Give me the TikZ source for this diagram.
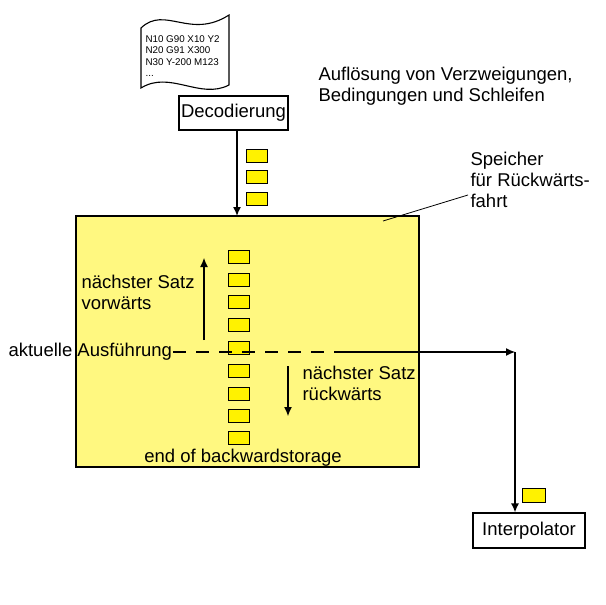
\documentclass[tikz,border=0pt]{standalone}
\usepackage{fontspec}
\setmainfont{Liberation Sans}
\usetikzlibrary{arrows.meta}
\begin{document}
\begin{tikzpicture}[x=1pt,y=-1pt,line width=1.1pt,
  lbl/.style={font=\fontsize{18.5}{21}\selectfont,align=left,inner sep=0,anchor=west},
  cell/.style={draw,fill=yellow,minimum width=21pt,minimum height=13pt,inner sep=0,line width=1pt},
  box/.style={draw,fill=white,inner sep=0},
  arr/.style={-{Latex[length=9pt,width=8pt]},line width=1.5pt}]
\useasboundingbox (0,0) rectangle (605,605);
% document
\draw[fill=white] (141,28) .. controls (165,5) and (190,40) .. (229,15) -- (229,85)
  .. controls (200,100) and (170,70) .. (141,88) -- cycle;
\node[font=\fontsize{9.8}{11.5}\selectfont,align=left,anchor=north west,inner sep=0] (code) at (145,35)
 {N10 G90 X10 Y2\\N20 G91 X300\\N30 Y-200 M123\\...};
\node[box,minimum width=109pt,minimum height=34pt,font=\fontsize{18.5}{21}\selectfont] (dec) at (233.5,113) {Decodierung};
\node[lbl] (aufl) at (318,86) {Auflösung von Verzweigungen,\\Bedingungen und Schleifen};
% big box
\node[draw,fill=yellow!50,minimum width=343pt,minimum height=251pt,inner sep=0] (spe) at (247.5,341.5) {};
\draw[arr] (dec.south -| 237,0) -- (237,216) coordinate (inp);
\foreach \y/\n in {156/a,177/b,199/c} \node[cell] (t\n) at (257,\y) {};
\foreach \y [count=\i] in {257,280,302,325,348,371,394,416,438} \node[cell] (s\i) at (238.5,\y) {};
\coordinate (u1) at (204,340); \coordinate (u2) at (204,258);
\draw[arr,line width=1.1pt] (u1) -- (u2);
\node[lbl] (vor) at (81,292) {nächster Satz\\vorwärts};
\coordinate (d1) at (288,366); \coordinate (d2) at (288,416);
\draw[arr,line width=1.1pt] (d1) -- (d2);
\node[lbl] (rue) at (302,383) {nächster Satz\\rückwärts};
\node[lbl] (akt) at (8,352) {aktuelle Ausführung};
\node[font=\fontsize{18.5}{21}\selectfont,inner sep=0] (end) at (243,458) {end of backwardstorage};
\node[lbl] (sp) at (470,180) {Speicher\\für Rückwärts-\\fahrt};
\draw[line width=0.8pt] (383,221) -- (468,195);
% current line
\coordinate (c0) at (173,352); \coordinate (c1) at (340,352); \coordinate (c2) at (515,352);
\draw[dash pattern=on 13pt off 10pt] (c0) -- (c1);
\draw[arr,line width=1.1pt] (c1) -- (c2);
\node[box,minimum width=112pt,minimum height=35pt,font=\fontsize{18.5}{21}\selectfont] (int) at (529,530.5) {Interpolator};
\draw[arr] (c2) -- (c2 |- int.north);
\node[cell,minimum width=23pt,minimum height=14pt] (ti) at (533.5,495) {};
\end{tikzpicture}
\end{document}
